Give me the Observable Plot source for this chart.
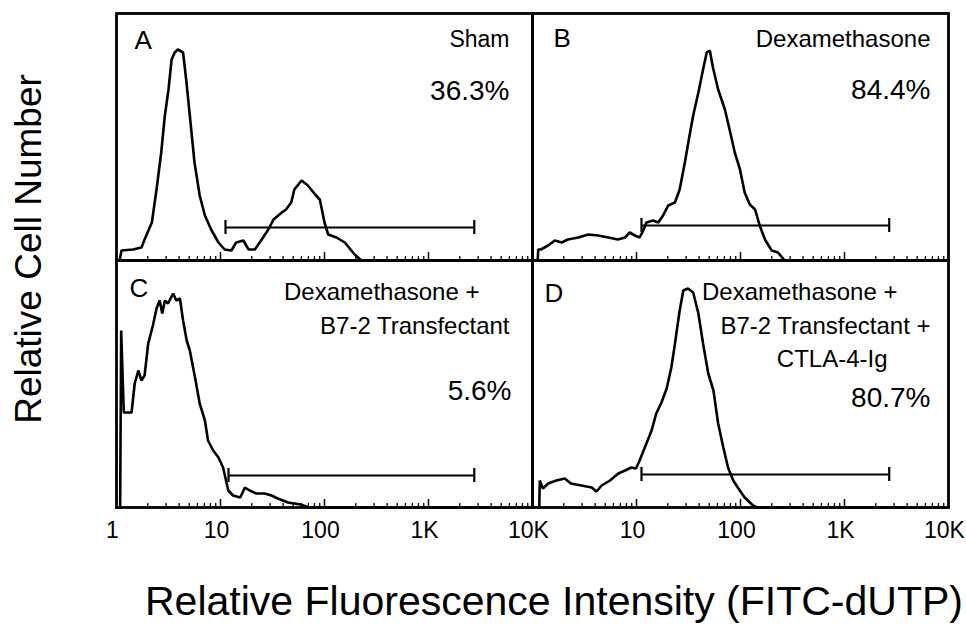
<!DOCTYPE html>
<html><head><meta charset="utf-8">
<script src="https://cdn.jsdelivr.net/npm/d3@7"></script>
<script src="https://cdn.jsdelivr.net/npm/@observablehq/plot@0.6"></script>
<style>
body{margin:0;background:#fff;}
#wrap{position:relative;width:966px;height:640px;font-family:"Liberation Sans",Arial,Helvetica,sans-serif;color:#000;overflow:hidden;}
#chart{position:absolute;left:0;top:0;}
#ytitle{position:absolute;left:28px;top:249px;transform:translate(-50%,-50%) rotate(-90deg);font-size:37px;line-height:37px;white-space:nowrap;}
#xtitle{position:absolute;left:554px;top:581px;transform:translateX(-50%);font-size:41px;line-height:41px;white-space:nowrap;}
</style></head>
<body><div id="wrap"><div id="chart"></div>
<div id="ytitle">Relative Cell Number</div>
<div id="xtitle">Relative Fluorescence Intensity (FITC-dUTP)</div></div>
<script>
// x values are log10 of fluorescence intensity (decades); counts are relative cell number
const A_log = [0, 0.03, 0.048, 0.16, 0.24, 0.27, 0.34, 0.385, 0.43, 0.465, 0.50, 0.53, 0.56, 0.59, 0.64, 0.67, 0.705, 0.75, 0.80, 0.85, 0.91, 0.98, 1.04, 1.105, 1.15, 1.22, 1.27, 1.33, 1.39, 1.46, 1.51, 1.59, 1.63, 1.68, 1.71, 1.78, 1.84, 1.91, 1.955, 2.0, 2.035, 2.115, 2.195, 2.29, 2.355, 4];
const A_count = [0, 0, 10, 11, 13, 21, 38, 71, 108, 145, 171, 201, 208, 211, 208, 181, 145, 98, 65, 45, 31, 18, 11, 10, 18, 20, 11, 11, 20, 31, 41, 48, 51, 58, 71, 80, 75, 66, 61, 38, 26, 23, 18, 6, 0, 0];
const B_log = [0, 0.05, 0.055, 0.08, 0.15, 0.215, 0.28, 0.34, 0.44, 0.535, 0.63, 0.73, 0.82, 0.89, 0.935, 0.985, 1.03, 1.065, 1.095, 1.16, 1.21, 1.255, 1.305, 1.37, 1.415, 1.465, 1.51, 1.545, 1.595, 1.64, 1.675, 1.705, 1.735, 1.785, 1.85, 1.895, 1.945, 1.995, 2.04, 2.09, 2.14, 2.185, 2.235, 2.3, 2.36, 2.425, 4];
const B_count = [0, 0, 11, 11, 15, 20, 18, 21, 23, 26, 25, 23, 21, 23, 28, 25, 23, 30, 38, 40, 38, 45, 55, 58, 71, 98, 125, 145, 168, 191, 208, 210, 193, 171, 151, 131, 108, 91, 68, 56, 51, 35, 21, 10, 8, 0, 0];
const C_log = [0, 0.035, 0.045, 0.07, 0.145, 0.175, 0.21, 0.24, 0.27, 0.305, 0.35, 0.385, 0.415, 0.44, 0.465, 0.495, 0.545, 0.575, 0.61, 0.64, 0.675, 0.705, 0.755, 0.80, 0.85, 0.88, 0.93, 0.98, 1.025, 1.075, 1.12, 1.19, 1.235, 1.28, 1.345, 1.425, 1.49, 1.55, 1.65, 1.77, 1.85, 4];
const C_count = [0, 0, 177, 95, 95, 124, 137, 127, 132, 164, 182, 199, 207, 194, 207, 204, 214, 207, 209, 187, 167, 157, 130, 104, 87, 67, 57, 50, 40, 17, 12, 10, 20, 17, 14, 14, 12, 9, 5, 3, 0, 0];
const D_log = [0, 0.065, 0.07, 0.10, 0.15, 0.23, 0.31, 0.37, 0.47, 0.57, 0.615, 0.665, 0.745, 0.825, 0.89, 0.95, 0.995, 1.03, 1.08, 1.145, 1.19, 1.24, 1.29, 1.335, 1.37, 1.415, 1.45, 1.495, 1.545, 1.595, 1.64, 1.69, 1.74, 1.785, 1.835, 1.88, 1.93, 1.98, 2.04, 2.12, 2.16, 4];
const D_count = [0, 0, 27, 19, 24, 27, 29, 24, 22, 20, 16, 22, 27, 34, 37, 40, 39, 47, 60, 77, 94, 105, 119, 140, 164, 197, 217, 219, 215, 194, 164, 134, 117, 84, 60, 40, 27, 19, 10, 2, 0, 0];

const panelLetters = ["A", "B", "C", "D"];
const panelCols = ["left", "right", "left", "right"];
const panelRows = ["top", "top", "bottom", "bottom"];
const percentages = ["36.3%", "84.4%", "5.6%", "80.7%"];
const gateLow = [1.048, 1.048, 1.077, 1.048];
const gateHigh = [3.44, 3.43, 3.44, 3.43];
const gateLevel = [33, 35, 32, 33];

const tickValues = [0, 1, 2, 3, 4];
const tickLabels = ["1", "10", "100", "1K", "10K"];

const logs = [A_log, B_log, C_log, D_log];
const counts = [A_count, B_count, C_count, D_count];

const hist = [];
panelLetters.forEach((p, i) => logs[i].forEach((x, j) => hist.push({panel: p, col: panelCols[i], row: panelRows[i], x, y: counts[i][j]})));
const gates = panelLetters.map((p, i) => ({panel: p, col: panelCols[i], row: panelRows[i], x1: gateLow[i], x2: gateHigh[i], y: gateLevel[i]}));
const gateEnds = gates.flatMap(g => [{...g, x: g.x1}, {...g, x: g.x2}]);
const tickRows = [];
["left", "right"].forEach(c => tickValues.forEach((v, i) => { if (c === "left" || v > 0) tickRows.push({col: c, row: "bottom", x: v, label: tickLabels[i]}); }));
const minor = [];
for (let d = 0; d < 4; d++) for (let k = 2; k <= 9; k++) minor.push(d + Math.log10(k));
const major = [1, 2, 3];

function label(text, col, row, anchor, dx, dy, size) {
  return Plot.text([text], {
    text: d => d, fx: () => col, fy: () => row, frameAnchor: anchor,
    textAnchor: anchor.endsWith("right") ? "end" : "start", lineAnchor: "bottom",
    dx, dy, fontSize: size, fill: "black"
  });
}

const chart = Plot.plot({
  width: 966, height: 560,
  marginLeft: 115, marginRight: 18, marginTop: 12, marginBottom: 53,
  x: {domain: [0, 4], axis: null},
  y: {domain: [0, 247], axis: null},
  fx: {domain: ["left", "right"], padding: 0, axis: null},
  fy: {domain: ["top", "bottom"], padding: 0, axis: null},
  style: {fontFamily: "Liberation Sans, Arial, Helvetica, sans-serif", background: "white", overflow: "visible"},
  marks: [
    Plot.ruleX(minor, {x: d => d, y1: 0, y2: 4, stroke: "black", strokeWidth: 1.3}),
    Plot.ruleX(major, {x: d => d, y1: 0, y2: 8, stroke: "black", strokeWidth: 1.5}),
    Plot.line(hist, {x: "x", y: "y", z: "panel", fx: "col", fy: "row", stroke: "black", strokeWidth: 2.6, strokeLinejoin: "miter"}),
    Plot.ruleY(gates, {x1: "x1", x2: "x2", y: "y", fx: "col", fy: "row", stroke: "black", strokeWidth: 2}),
    Plot.ruleX(gateEnds, {x: "x", y1: d => d.y - 7, y2: d => d.y + 7, fx: "col", fy: "row", stroke: "black", strokeWidth: 2.2}),
    Plot.frame({stroke: "black", strokeWidth: 2.8}),
    Plot.text(tickRows, {x: "x", y: () => 0, text: "label", fx: "col", fy: "row", dy: 30, dx: -4, lineAnchor: "bottom", fontSize: 23, fill: "black"}),
    label(panelLetters[0], "left", "top", "top-left", 18, 35, 26),
    label("Sham", "left", "top", "top-right", -23, 33, 23),
    label(percentages[0], "left", "top", "top-right", -23, 86, 28),
    label(panelLetters[1], "right", "top", "top-left", 21, 33, 26),
    label("Dexamethasone", "right", "top", "top-right", -18, 33, 24),
    label(percentages[1], "right", "top", "top-right", -18, 85, 28),
    label(panelLetters[2], "left", "bottom", "top-left", 13, 36, 26),
    label("Dexamethasone +", "left", "bottom", "top-right", -53, 39, 24),
    label("B7-2 Transfectant", "left", "bottom", "top-right", -23, 73, 24),
    label(percentages[2], "left", "bottom", "top-right", -21, 139, 28),
    label(panelLetters[3], "right", "bottom", "top-left", 12, 41, 26),
    label("Dexamethasone +", "right", "bottom", "top-right", -51, 39, 24),
    label("B7-2 Transfectant +", "right", "bottom", "top-right", -18, 73, 24),
    label("CTLA-4-Ig", "right", "bottom", "top-right", -61, 106, 24),
    label(percentages[3], "right", "bottom", "top-right", -18, 146, 28)
  ]
});
document.getElementById("chart").appendChild(chart);
</script></body></html>
